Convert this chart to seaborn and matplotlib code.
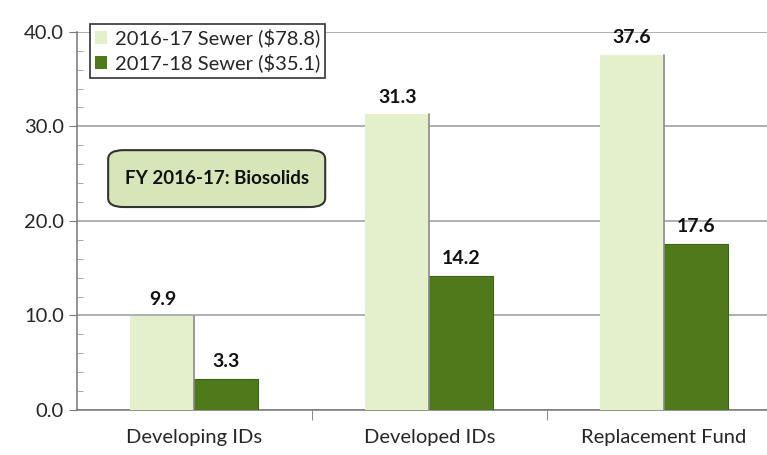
import pandas as pd
import numpy as np
import matplotlib
matplotlib.use('Agg')
import matplotlib.pyplot as plt
import seaborn as sns
from matplotlib.patches import FancyBboxPatch
from matplotlib.ticker import MultipleLocator, FixedLocator

categories = ['Developing IDs', 'Developed IDs', 'Replacement Fund']
series = ['2016-17 Sewer ($78.8)', '2017-18 Sewer ($35.1)']
sewer_2016_17 = [9.9, 31.3, 37.6]
sewer_2017_18 = [3.3, 14.2, 17.6]

df = pd.DataFrame({
    'category': categories * 2,
    'series': [series[0]] * 3 + [series[1]] * 3,
    'value': sewer_2016_17 + sewer_2017_18,
})

sns.set_style('white')
plt.rcParams['font.family'] = ['Lato', 'DejaVu Sans']

fig = plt.figure(figsize=(7.67, 4.55), dpi=100)
ax = fig.add_axes([0.1004, 0.099, 0.9, 0.831])

pal = {series[0]: '#e4f0cc', series[1]: '#4e7a1c'}
sns.barplot(data=df, x='category', y='value', hue='series', order=categories,
            hue_order=series, palette=pal, width=0.545, gap=0, saturation=1,
            edgecolor='none', ax=ax, zorder=3)

# edges like the original: light bars get a grey right edge
for i, p in enumerate(ax.patches[:6]):
    if i < 3:
        x = p.get_x() + p.get_width()
        ax.plot([x, x], [0, p.get_height()], color='#8a8a8a', lw=1.2, zorder=4)
    else:
        p.set_edgecolor('#3d6416')
        p.set_linewidth(0.8)

for cont in ax.containers:
    ax.bar_label(cont, fmt='%.1f', padding=6, fontsize=14, fontweight='bold',
                 color='#111111')

ax.set_ylim(0, 40)
ax.set_xlim(-0.5, 2.44)
ax.yaxis.set_major_locator(MultipleLocator(10))
ax.yaxis.set_minor_locator(MultipleLocator(2))
ax.set_yticklabels([f'{v:.1f}' for v in ax.get_yticks()])
ax.tick_params(axis='y', which='major', labelsize=14.5, length=6, direction='out',
               color='#777777', left=True)
ax.tick_params(axis='y', which='minor', length=4, direction='in', color='#999999',
               left=True)
ax.xaxis.set_minor_locator(FixedLocator([0.5, 1.5]))
ax.tick_params(axis='x', which='major', labelsize=14.5, length=0, pad=14)
ax.tick_params(axis='x', which='minor', length=7, direction='out',
               color='#777777', bottom=True)
ax.grid(axis='y', color='#9a9a9a', lw=1.1, zorder=0)
ax.set_axisbelow(True)
for s in ['top', 'right']:
    ax.spines[s].set_visible(False)
for s in ['left', 'bottom']:
    ax.spines[s].set_color('#777777')
    ax.spines[s].set_linewidth(1.1)
ax.set_xlabel('')
ax.set_ylabel('')

handles, labels = ax.get_legend_handles_labels()
ax.legend(handles, labels, loc='upper left', bbox_to_anchor=(0.104, 0.97),
          bbox_transform=fig.transFigure, fontsize=14.5, frameon=True,
          fancybox=False, edgecolor='#333333', framealpha=1,
          handlelength=0.6, handleheight=0.6, handletextpad=0.4,
          borderpad=0.25, labelspacing=0.3)
ax.get_legend().get_frame().set_linewidth(1.2)

# annotation box
box = FancyBboxPatch((0.141, 0.545), 0.283, 0.125, transform=fig.transFigure,
                     boxstyle='round,pad=0,rounding_size=0.02',
                     facecolor='#d6e6b8', edgecolor='#333333', lw=1.5, zorder=5)
fig.patches.append(box)
fig.text(0.2825, 0.6075, 'FY 2016-17: Biosolids', ha='center', va='center',
         fontsize=13.5, fontweight='bold', color='#111111', zorder=6)

fig.savefig('out.png', dpi=100)
